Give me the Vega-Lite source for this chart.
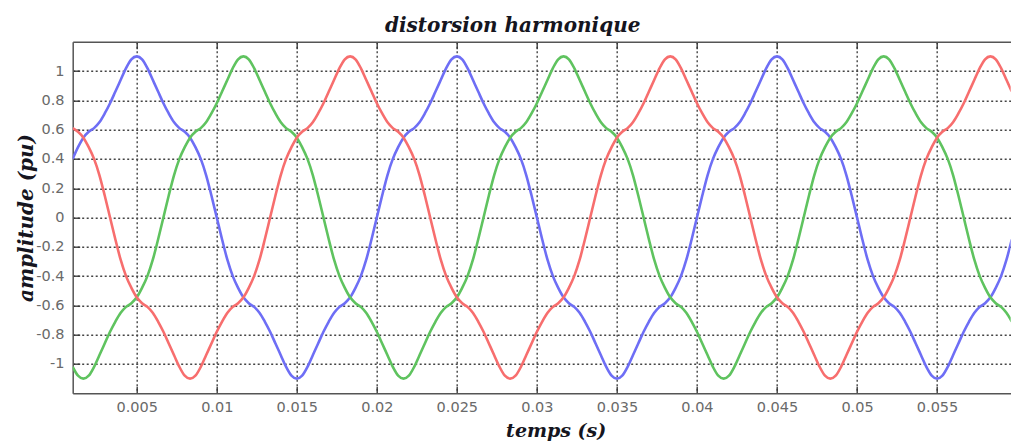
{
"$schema": "https://vega.github.io/schema/vega-lite/v6.json",
"width": 938, "height": 351.6,
"autosize": "none",
"padding": {"left": 72.7, "top": 41.7, "right": 0, "bottom": 52.7},
"background": "white",
"config": {"view": {"stroke": null}},
"title": {"text": "distorsion harmonique", "font": "DejaVu Serif", "fontSize": 20, "fontWeight": "bold", "fontStyle": "italic", "color": "#151520", "baseline": "alphabetic", "offset": 14, "dx": -29, "dy": 25},
"data": {"values": [
{"t":0.001,"s":"a","v":0.4},{"t":0.001,"s":"b","v":-1.02},{"t":0.001,"s":"c","v":0.61},
{"t":0.001333,"s":"a","v":0.48},{"t":0.001333,"s":"b","v":-1.08},{"t":0.001333,"s":"c","v":0.585},
{"t":0.001667,"s":"a","v":0.545},{"t":0.001667,"s":"b","v":-1.1},{"t":0.001667,"s":"c","v":0.545},
{"t":0.002,"s":"a","v":0.585},{"t":0.002,"s":"b","v":-1.08},{"t":0.002,"s":"c","v":0.48},
{"t":0.002333,"s":"a","v":0.61},{"t":0.002333,"s":"b","v":-1.02},{"t":0.002333,"s":"c","v":0.4},
{"t":0.002667,"s":"a","v":0.65},{"t":0.002667,"s":"b","v":-0.94},{"t":0.002667,"s":"c","v":0.29},
{"t":0.003,"s":"a","v":0.71},{"t":0.003,"s":"b","v":-0.86},{"t":0.003,"s":"c","v":0.15},
{"t":0.003333,"s":"a","v":0.78},{"t":0.003333,"s":"b","v":-0.78},{"t":0.003333,"s":"c","v":0},
{"t":0.003667,"s":"a","v":0.86},{"t":0.003667,"s":"b","v":-0.71},{"t":0.003667,"s":"c","v":-0.15},
{"t":0.004,"s":"a","v":0.94},{"t":0.004,"s":"b","v":-0.65},{"t":0.004,"s":"c","v":-0.29},
{"t":0.004333,"s":"a","v":1.02},{"t":0.004333,"s":"b","v":-0.61},{"t":0.004333,"s":"c","v":-0.4},
{"t":0.004667,"s":"a","v":1.08},{"t":0.004667,"s":"b","v":-0.585},{"t":0.004667,"s":"c","v":-0.48},
{"t":0.005,"s":"a","v":1.1},{"t":0.005,"s":"b","v":-0.545},{"t":0.005,"s":"c","v":-0.545},
{"t":0.005333,"s":"a","v":1.08},{"t":0.005333,"s":"b","v":-0.48},{"t":0.005333,"s":"c","v":-0.585},
{"t":0.005667,"s":"a","v":1.02},{"t":0.005667,"s":"b","v":-0.4},{"t":0.005667,"s":"c","v":-0.61},
{"t":0.006,"s":"a","v":0.94},{"t":0.006,"s":"b","v":-0.29},{"t":0.006,"s":"c","v":-0.65},
{"t":0.006333,"s":"a","v":0.86},{"t":0.006333,"s":"b","v":-0.15},{"t":0.006333,"s":"c","v":-0.71},
{"t":0.006667,"s":"a","v":0.78},{"t":0.006667,"s":"b","v":0},{"t":0.006667,"s":"c","v":-0.78},
{"t":0.007,"s":"a","v":0.71},{"t":0.007,"s":"b","v":0.15},{"t":0.007,"s":"c","v":-0.86},
{"t":0.007333,"s":"a","v":0.65},{"t":0.007333,"s":"b","v":0.29},{"t":0.007333,"s":"c","v":-0.94},
{"t":0.007667,"s":"a","v":0.61},{"t":0.007667,"s":"b","v":0.4},{"t":0.007667,"s":"c","v":-1.02},
{"t":0.008,"s":"a","v":0.585},{"t":0.008,"s":"b","v":0.48},{"t":0.008,"s":"c","v":-1.08},
{"t":0.008333,"s":"a","v":0.545},{"t":0.008333,"s":"b","v":0.545},{"t":0.008333,"s":"c","v":-1.1},
{"t":0.008667,"s":"a","v":0.48},{"t":0.008667,"s":"b","v":0.585},{"t":0.008667,"s":"c","v":-1.08},
{"t":0.009,"s":"a","v":0.4},{"t":0.009,"s":"b","v":0.61},{"t":0.009,"s":"c","v":-1.02},
{"t":0.009333,"s":"a","v":0.29},{"t":0.009333,"s":"b","v":0.65},{"t":0.009333,"s":"c","v":-0.94},
{"t":0.009667,"s":"a","v":0.15},{"t":0.009667,"s":"b","v":0.71},{"t":0.009667,"s":"c","v":-0.86},
{"t":0.01,"s":"a","v":0},{"t":0.01,"s":"b","v":0.78},{"t":0.01,"s":"c","v":-0.78},
{"t":0.010333,"s":"a","v":-0.15},{"t":0.010333,"s":"b","v":0.86},{"t":0.010333,"s":"c","v":-0.71},
{"t":0.010667,"s":"a","v":-0.29},{"t":0.010667,"s":"b","v":0.94},{"t":0.010667,"s":"c","v":-0.65},
{"t":0.011,"s":"a","v":-0.4},{"t":0.011,"s":"b","v":1.02},{"t":0.011,"s":"c","v":-0.61},
{"t":0.011333,"s":"a","v":-0.48},{"t":0.011333,"s":"b","v":1.08},{"t":0.011333,"s":"c","v":-0.585},
{"t":0.011667,"s":"a","v":-0.545},{"t":0.011667,"s":"b","v":1.1},{"t":0.011667,"s":"c","v":-0.545},
{"t":0.012,"s":"a","v":-0.585},{"t":0.012,"s":"b","v":1.08},{"t":0.012,"s":"c","v":-0.48},
{"t":0.012333,"s":"a","v":-0.61},{"t":0.012333,"s":"b","v":1.02},{"t":0.012333,"s":"c","v":-0.4},
{"t":0.012667,"s":"a","v":-0.65},{"t":0.012667,"s":"b","v":0.94},{"t":0.012667,"s":"c","v":-0.29},
{"t":0.013,"s":"a","v":-0.71},{"t":0.013,"s":"b","v":0.86},{"t":0.013,"s":"c","v":-0.15},
{"t":0.013333,"s":"a","v":-0.78},{"t":0.013333,"s":"b","v":0.78},{"t":0.013333,"s":"c","v":0},
{"t":0.013667,"s":"a","v":-0.86},{"t":0.013667,"s":"b","v":0.71},{"t":0.013667,"s":"c","v":0.15},
{"t":0.014,"s":"a","v":-0.94},{"t":0.014,"s":"b","v":0.65},{"t":0.014,"s":"c","v":0.29},
{"t":0.014333,"s":"a","v":-1.02},{"t":0.014333,"s":"b","v":0.61},{"t":0.014333,"s":"c","v":0.4},
{"t":0.014667,"s":"a","v":-1.08},{"t":0.014667,"s":"b","v":0.585},{"t":0.014667,"s":"c","v":0.48},
{"t":0.015,"s":"a","v":-1.1},{"t":0.015,"s":"b","v":0.545},{"t":0.015,"s":"c","v":0.545},
{"t":0.015333,"s":"a","v":-1.08},{"t":0.015333,"s":"b","v":0.48},{"t":0.015333,"s":"c","v":0.585},
{"t":0.015667,"s":"a","v":-1.02},{"t":0.015667,"s":"b","v":0.4},{"t":0.015667,"s":"c","v":0.61},
{"t":0.016,"s":"a","v":-0.94},{"t":0.016,"s":"b","v":0.29},{"t":0.016,"s":"c","v":0.65},
{"t":0.016333,"s":"a","v":-0.86},{"t":0.016333,"s":"b","v":0.15},{"t":0.016333,"s":"c","v":0.71},
{"t":0.016667,"s":"a","v":-0.78},{"t":0.016667,"s":"b","v":0},{"t":0.016667,"s":"c","v":0.78},
{"t":0.017,"s":"a","v":-0.71},{"t":0.017,"s":"b","v":-0.15},{"t":0.017,"s":"c","v":0.86},
{"t":0.017333,"s":"a","v":-0.65},{"t":0.017333,"s":"b","v":-0.29},{"t":0.017333,"s":"c","v":0.94},
{"t":0.017667,"s":"a","v":-0.61},{"t":0.017667,"s":"b","v":-0.4},{"t":0.017667,"s":"c","v":1.02},
{"t":0.018,"s":"a","v":-0.585},{"t":0.018,"s":"b","v":-0.48},{"t":0.018,"s":"c","v":1.08},
{"t":0.018333,"s":"a","v":-0.545},{"t":0.018333,"s":"b","v":-0.545},{"t":0.018333,"s":"c","v":1.1},
{"t":0.018667,"s":"a","v":-0.48},{"t":0.018667,"s":"b","v":-0.585},{"t":0.018667,"s":"c","v":1.08},
{"t":0.019,"s":"a","v":-0.4},{"t":0.019,"s":"b","v":-0.61},{"t":0.019,"s":"c","v":1.02},
{"t":0.019333,"s":"a","v":-0.29},{"t":0.019333,"s":"b","v":-0.65},{"t":0.019333,"s":"c","v":0.94},
{"t":0.019667,"s":"a","v":-0.15},{"t":0.019667,"s":"b","v":-0.71},{"t":0.019667,"s":"c","v":0.86},
{"t":0.02,"s":"a","v":0},{"t":0.02,"s":"b","v":-0.78},{"t":0.02,"s":"c","v":0.78},
{"t":0.020333,"s":"a","v":0.15},{"t":0.020333,"s":"b","v":-0.86},{"t":0.020333,"s":"c","v":0.71},
{"t":0.020667,"s":"a","v":0.29},{"t":0.020667,"s":"b","v":-0.94},{"t":0.020667,"s":"c","v":0.65},
{"t":0.021,"s":"a","v":0.4},{"t":0.021,"s":"b","v":-1.02},{"t":0.021,"s":"c","v":0.61},
{"t":0.021333,"s":"a","v":0.48},{"t":0.021333,"s":"b","v":-1.08},{"t":0.021333,"s":"c","v":0.585},
{"t":0.021667,"s":"a","v":0.545},{"t":0.021667,"s":"b","v":-1.1},{"t":0.021667,"s":"c","v":0.545},
{"t":0.022,"s":"a","v":0.585},{"t":0.022,"s":"b","v":-1.08},{"t":0.022,"s":"c","v":0.48},
{"t":0.022333,"s":"a","v":0.61},{"t":0.022333,"s":"b","v":-1.02},{"t":0.022333,"s":"c","v":0.4},
{"t":0.022667,"s":"a","v":0.65},{"t":0.022667,"s":"b","v":-0.94},{"t":0.022667,"s":"c","v":0.29},
{"t":0.023,"s":"a","v":0.71},{"t":0.023,"s":"b","v":-0.86},{"t":0.023,"s":"c","v":0.15},
{"t":0.023333,"s":"a","v":0.78},{"t":0.023333,"s":"b","v":-0.78},{"t":0.023333,"s":"c","v":0},
{"t":0.023667,"s":"a","v":0.86},{"t":0.023667,"s":"b","v":-0.71},{"t":0.023667,"s":"c","v":-0.15},
{"t":0.024,"s":"a","v":0.94},{"t":0.024,"s":"b","v":-0.65},{"t":0.024,"s":"c","v":-0.29},
{"t":0.024333,"s":"a","v":1.02},{"t":0.024333,"s":"b","v":-0.61},{"t":0.024333,"s":"c","v":-0.4},
{"t":0.024667,"s":"a","v":1.08},{"t":0.024667,"s":"b","v":-0.585},{"t":0.024667,"s":"c","v":-0.48},
{"t":0.025,"s":"a","v":1.1},{"t":0.025,"s":"b","v":-0.545},{"t":0.025,"s":"c","v":-0.545},
{"t":0.025333,"s":"a","v":1.08},{"t":0.025333,"s":"b","v":-0.48},{"t":0.025333,"s":"c","v":-0.585},
{"t":0.025667,"s":"a","v":1.02},{"t":0.025667,"s":"b","v":-0.4},{"t":0.025667,"s":"c","v":-0.61},
{"t":0.026,"s":"a","v":0.94},{"t":0.026,"s":"b","v":-0.29},{"t":0.026,"s":"c","v":-0.65},
{"t":0.026333,"s":"a","v":0.86},{"t":0.026333,"s":"b","v":-0.15},{"t":0.026333,"s":"c","v":-0.71},
{"t":0.026667,"s":"a","v":0.78},{"t":0.026667,"s":"b","v":0},{"t":0.026667,"s":"c","v":-0.78},
{"t":0.027,"s":"a","v":0.71},{"t":0.027,"s":"b","v":0.15},{"t":0.027,"s":"c","v":-0.86},
{"t":0.027333,"s":"a","v":0.65},{"t":0.027333,"s":"b","v":0.29},{"t":0.027333,"s":"c","v":-0.94},
{"t":0.027667,"s":"a","v":0.61},{"t":0.027667,"s":"b","v":0.4},{"t":0.027667,"s":"c","v":-1.02},
{"t":0.028,"s":"a","v":0.585},{"t":0.028,"s":"b","v":0.48},{"t":0.028,"s":"c","v":-1.08},
{"t":0.028333,"s":"a","v":0.545},{"t":0.028333,"s":"b","v":0.545},{"t":0.028333,"s":"c","v":-1.1},
{"t":0.028667,"s":"a","v":0.48},{"t":0.028667,"s":"b","v":0.585},{"t":0.028667,"s":"c","v":-1.08},
{"t":0.029,"s":"a","v":0.4},{"t":0.029,"s":"b","v":0.61},{"t":0.029,"s":"c","v":-1.02},
{"t":0.029333,"s":"a","v":0.29},{"t":0.029333,"s":"b","v":0.65},{"t":0.029333,"s":"c","v":-0.94},
{"t":0.029667,"s":"a","v":0.15},{"t":0.029667,"s":"b","v":0.71},{"t":0.029667,"s":"c","v":-0.86},
{"t":0.03,"s":"a","v":0},{"t":0.03,"s":"b","v":0.78},{"t":0.03,"s":"c","v":-0.78},
{"t":0.030333,"s":"a","v":-0.15},{"t":0.030333,"s":"b","v":0.86},{"t":0.030333,"s":"c","v":-0.71},
{"t":0.030667,"s":"a","v":-0.29},{"t":0.030667,"s":"b","v":0.94},{"t":0.030667,"s":"c","v":-0.65},
{"t":0.031,"s":"a","v":-0.4},{"t":0.031,"s":"b","v":1.02},{"t":0.031,"s":"c","v":-0.61},
{"t":0.031333,"s":"a","v":-0.48},{"t":0.031333,"s":"b","v":1.08},{"t":0.031333,"s":"c","v":-0.585},
{"t":0.031667,"s":"a","v":-0.545},{"t":0.031667,"s":"b","v":1.1},{"t":0.031667,"s":"c","v":-0.545},
{"t":0.032,"s":"a","v":-0.585},{"t":0.032,"s":"b","v":1.08},{"t":0.032,"s":"c","v":-0.48},
{"t":0.032333,"s":"a","v":-0.61},{"t":0.032333,"s":"b","v":1.02},{"t":0.032333,"s":"c","v":-0.4},
{"t":0.032667,"s":"a","v":-0.65},{"t":0.032667,"s":"b","v":0.94},{"t":0.032667,"s":"c","v":-0.29},
{"t":0.033,"s":"a","v":-0.71},{"t":0.033,"s":"b","v":0.86},{"t":0.033,"s":"c","v":-0.15},
{"t":0.033333,"s":"a","v":-0.78},{"t":0.033333,"s":"b","v":0.78},{"t":0.033333,"s":"c","v":0},
{"t":0.033667,"s":"a","v":-0.86},{"t":0.033667,"s":"b","v":0.71},{"t":0.033667,"s":"c","v":0.15},
{"t":0.034,"s":"a","v":-0.94},{"t":0.034,"s":"b","v":0.65},{"t":0.034,"s":"c","v":0.29},
{"t":0.034333,"s":"a","v":-1.02},{"t":0.034333,"s":"b","v":0.61},{"t":0.034333,"s":"c","v":0.4},
{"t":0.034667,"s":"a","v":-1.08},{"t":0.034667,"s":"b","v":0.585},{"t":0.034667,"s":"c","v":0.48},
{"t":0.035,"s":"a","v":-1.1},{"t":0.035,"s":"b","v":0.545},{"t":0.035,"s":"c","v":0.545},
{"t":0.035333,"s":"a","v":-1.08},{"t":0.035333,"s":"b","v":0.48},{"t":0.035333,"s":"c","v":0.585},
{"t":0.035667,"s":"a","v":-1.02},{"t":0.035667,"s":"b","v":0.4},{"t":0.035667,"s":"c","v":0.61},
{"t":0.036,"s":"a","v":-0.94},{"t":0.036,"s":"b","v":0.29},{"t":0.036,"s":"c","v":0.65},
{"t":0.036333,"s":"a","v":-0.86},{"t":0.036333,"s":"b","v":0.15},{"t":0.036333,"s":"c","v":0.71},
{"t":0.036667,"s":"a","v":-0.78},{"t":0.036667,"s":"b","v":0},{"t":0.036667,"s":"c","v":0.78},
{"t":0.037,"s":"a","v":-0.71},{"t":0.037,"s":"b","v":-0.15},{"t":0.037,"s":"c","v":0.86},
{"t":0.037333,"s":"a","v":-0.65},{"t":0.037333,"s":"b","v":-0.29},{"t":0.037333,"s":"c","v":0.94},
{"t":0.037667,"s":"a","v":-0.61},{"t":0.037667,"s":"b","v":-0.4},{"t":0.037667,"s":"c","v":1.02},
{"t":0.038,"s":"a","v":-0.585},{"t":0.038,"s":"b","v":-0.48},{"t":0.038,"s":"c","v":1.08},
{"t":0.038333,"s":"a","v":-0.545},{"t":0.038333,"s":"b","v":-0.545},{"t":0.038333,"s":"c","v":1.1},
{"t":0.038667,"s":"a","v":-0.48},{"t":0.038667,"s":"b","v":-0.585},{"t":0.038667,"s":"c","v":1.08},
{"t":0.039,"s":"a","v":-0.4},{"t":0.039,"s":"b","v":-0.61},{"t":0.039,"s":"c","v":1.02},
{"t":0.039333,"s":"a","v":-0.29},{"t":0.039333,"s":"b","v":-0.65},{"t":0.039333,"s":"c","v":0.94},
{"t":0.039667,"s":"a","v":-0.15},{"t":0.039667,"s":"b","v":-0.71},{"t":0.039667,"s":"c","v":0.86},
{"t":0.04,"s":"a","v":0},{"t":0.04,"s":"b","v":-0.78},{"t":0.04,"s":"c","v":0.78},
{"t":0.040333,"s":"a","v":0.15},{"t":0.040333,"s":"b","v":-0.86},{"t":0.040333,"s":"c","v":0.71},
{"t":0.040667,"s":"a","v":0.29},{"t":0.040667,"s":"b","v":-0.94},{"t":0.040667,"s":"c","v":0.65},
{"t":0.041,"s":"a","v":0.4},{"t":0.041,"s":"b","v":-1.02},{"t":0.041,"s":"c","v":0.61},
{"t":0.041333,"s":"a","v":0.48},{"t":0.041333,"s":"b","v":-1.08},{"t":0.041333,"s":"c","v":0.585},
{"t":0.041667,"s":"a","v":0.545},{"t":0.041667,"s":"b","v":-1.1},{"t":0.041667,"s":"c","v":0.545},
{"t":0.042,"s":"a","v":0.585},{"t":0.042,"s":"b","v":-1.08},{"t":0.042,"s":"c","v":0.48},
{"t":0.042333,"s":"a","v":0.61},{"t":0.042333,"s":"b","v":-1.02},{"t":0.042333,"s":"c","v":0.4},
{"t":0.042667,"s":"a","v":0.65},{"t":0.042667,"s":"b","v":-0.94},{"t":0.042667,"s":"c","v":0.29},
{"t":0.043,"s":"a","v":0.71},{"t":0.043,"s":"b","v":-0.86},{"t":0.043,"s":"c","v":0.15},
{"t":0.043333,"s":"a","v":0.78},{"t":0.043333,"s":"b","v":-0.78},{"t":0.043333,"s":"c","v":0},
{"t":0.043667,"s":"a","v":0.86},{"t":0.043667,"s":"b","v":-0.71},{"t":0.043667,"s":"c","v":-0.15},
{"t":0.044,"s":"a","v":0.94},{"t":0.044,"s":"b","v":-0.65},{"t":0.044,"s":"c","v":-0.29},
{"t":0.044333,"s":"a","v":1.02},{"t":0.044333,"s":"b","v":-0.61},{"t":0.044333,"s":"c","v":-0.4},
{"t":0.044667,"s":"a","v":1.08},{"t":0.044667,"s":"b","v":-0.585},{"t":0.044667,"s":"c","v":-0.48},
{"t":0.045,"s":"a","v":1.1},{"t":0.045,"s":"b","v":-0.545},{"t":0.045,"s":"c","v":-0.545},
{"t":0.045333,"s":"a","v":1.08},{"t":0.045333,"s":"b","v":-0.48},{"t":0.045333,"s":"c","v":-0.585},
{"t":0.045667,"s":"a","v":1.02},{"t":0.045667,"s":"b","v":-0.4},{"t":0.045667,"s":"c","v":-0.61},
{"t":0.046,"s":"a","v":0.94},{"t":0.046,"s":"b","v":-0.29},{"t":0.046,"s":"c","v":-0.65},
{"t":0.046333,"s":"a","v":0.86},{"t":0.046333,"s":"b","v":-0.15},{"t":0.046333,"s":"c","v":-0.71},
{"t":0.046667,"s":"a","v":0.78},{"t":0.046667,"s":"b","v":0},{"t":0.046667,"s":"c","v":-0.78},
{"t":0.047,"s":"a","v":0.71},{"t":0.047,"s":"b","v":0.15},{"t":0.047,"s":"c","v":-0.86},
{"t":0.047333,"s":"a","v":0.65},{"t":0.047333,"s":"b","v":0.29},{"t":0.047333,"s":"c","v":-0.94},
{"t":0.047667,"s":"a","v":0.61},{"t":0.047667,"s":"b","v":0.4},{"t":0.047667,"s":"c","v":-1.02},
{"t":0.048,"s":"a","v":0.585},{"t":0.048,"s":"b","v":0.48},{"t":0.048,"s":"c","v":-1.08},
{"t":0.048333,"s":"a","v":0.545},{"t":0.048333,"s":"b","v":0.545},{"t":0.048333,"s":"c","v":-1.1},
{"t":0.048667,"s":"a","v":0.48},{"t":0.048667,"s":"b","v":0.585},{"t":0.048667,"s":"c","v":-1.08},
{"t":0.049,"s":"a","v":0.4},{"t":0.049,"s":"b","v":0.61},{"t":0.049,"s":"c","v":-1.02},
{"t":0.049333,"s":"a","v":0.29},{"t":0.049333,"s":"b","v":0.65},{"t":0.049333,"s":"c","v":-0.94},
{"t":0.049667,"s":"a","v":0.15},{"t":0.049667,"s":"b","v":0.71},{"t":0.049667,"s":"c","v":-0.86},
{"t":0.05,"s":"a","v":0},{"t":0.05,"s":"b","v":0.78},{"t":0.05,"s":"c","v":-0.78},
{"t":0.050333,"s":"a","v":-0.15},{"t":0.050333,"s":"b","v":0.86},{"t":0.050333,"s":"c","v":-0.71},
{"t":0.050667,"s":"a","v":-0.29},{"t":0.050667,"s":"b","v":0.94},{"t":0.050667,"s":"c","v":-0.65},
{"t":0.051,"s":"a","v":-0.4},{"t":0.051,"s":"b","v":1.02},{"t":0.051,"s":"c","v":-0.61},
{"t":0.051333,"s":"a","v":-0.48},{"t":0.051333,"s":"b","v":1.08},{"t":0.051333,"s":"c","v":-0.585},
{"t":0.051667,"s":"a","v":-0.545},{"t":0.051667,"s":"b","v":1.1},{"t":0.051667,"s":"c","v":-0.545},
{"t":0.052,"s":"a","v":-0.585},{"t":0.052,"s":"b","v":1.08},{"t":0.052,"s":"c","v":-0.48},
{"t":0.052333,"s":"a","v":-0.61},{"t":0.052333,"s":"b","v":1.02},{"t":0.052333,"s":"c","v":-0.4},
{"t":0.052667,"s":"a","v":-0.65},{"t":0.052667,"s":"b","v":0.94},{"t":0.052667,"s":"c","v":-0.29},
{"t":0.053,"s":"a","v":-0.71},{"t":0.053,"s":"b","v":0.86},{"t":0.053,"s":"c","v":-0.15},
{"t":0.053333,"s":"a","v":-0.78},{"t":0.053333,"s":"b","v":0.78},{"t":0.053333,"s":"c","v":0},
{"t":0.053667,"s":"a","v":-0.86},{"t":0.053667,"s":"b","v":0.71},{"t":0.053667,"s":"c","v":0.15},
{"t":0.054,"s":"a","v":-0.94},{"t":0.054,"s":"b","v":0.65},{"t":0.054,"s":"c","v":0.29},
{"t":0.054333,"s":"a","v":-1.02},{"t":0.054333,"s":"b","v":0.61},{"t":0.054333,"s":"c","v":0.4},
{"t":0.054667,"s":"a","v":-1.08},{"t":0.054667,"s":"b","v":0.585},{"t":0.054667,"s":"c","v":0.48},
{"t":0.055,"s":"a","v":-1.1},{"t":0.055,"s":"b","v":0.545},{"t":0.055,"s":"c","v":0.545},
{"t":0.055333,"s":"a","v":-1.08},{"t":0.055333,"s":"b","v":0.48},{"t":0.055333,"s":"c","v":0.585},
{"t":0.055667,"s":"a","v":-1.02},{"t":0.055667,"s":"b","v":0.4},{"t":0.055667,"s":"c","v":0.61},
{"t":0.056,"s":"a","v":-0.94},{"t":0.056,"s":"b","v":0.29},{"t":0.056,"s":"c","v":0.65},
{"t":0.056333,"s":"a","v":-0.86},{"t":0.056333,"s":"b","v":0.15},{"t":0.056333,"s":"c","v":0.71},
{"t":0.056667,"s":"a","v":-0.78},{"t":0.056667,"s":"b","v":0},{"t":0.056667,"s":"c","v":0.78},
{"t":0.057,"s":"a","v":-0.71},{"t":0.057,"s":"b","v":-0.15},{"t":0.057,"s":"c","v":0.86},
{"t":0.057333,"s":"a","v":-0.65},{"t":0.057333,"s":"b","v":-0.29},{"t":0.057333,"s":"c","v":0.94},
{"t":0.057667,"s":"a","v":-0.61},{"t":0.057667,"s":"b","v":-0.4},{"t":0.057667,"s":"c","v":1.02},
{"t":0.058,"s":"a","v":-0.585},{"t":0.058,"s":"b","v":-0.48},{"t":0.058,"s":"c","v":1.08},
{"t":0.058333,"s":"a","v":-0.545},{"t":0.058333,"s":"b","v":-0.545},{"t":0.058333,"s":"c","v":1.1},
{"t":0.058667,"s":"a","v":-0.48},{"t":0.058667,"s":"b","v":-0.585},{"t":0.058667,"s":"c","v":1.08},
{"t":0.059,"s":"a","v":-0.4},{"t":0.059,"s":"b","v":-0.61},{"t":0.059,"s":"c","v":1.02},
{"t":0.059333,"s":"a","v":-0.29},{"t":0.059333,"s":"b","v":-0.65},{"t":0.059333,"s":"c","v":0.94},
{"t":0.059667,"s":"a","v":-0.15},{"t":0.059667,"s":"b","v":-0.71},{"t":0.059667,"s":"c","v":0.86}
]},
"layer": [
{"mark": {"type": "line", "interpolate": "monotone", "strokeWidth": 2.6, "clip": true},
 "encoding": {
  "x": {"field": "t", "type": "quantitative",
        "scale": {"domain": [0.001, 0.0596], "nice": false, "zero": false},
        "axis": {"orient": "bottom", "values": [0.005,0.01,0.015,0.02,0.025,0.03,0.035,0.04,0.045,0.05,0.055],
                 "tickCount": 30,
                 "format": ".3~f", "labelFont": "DejaVu Sans", "labelFontSize": 14.5, "labelColor": "#6a6a6a",
                 "labelOverlap": false,
                 "tickSize": -7, "tickColor": "#333333", "tickWidth": 1.3, "labelPadding": 14,
                 "domainColor": "#555555", "domainWidth": 1.5,
                 "grid": true, "gridColor": "#444444", "gridDash": [2, 2.5], "gridWidth": 1.4,
                 "title": "temps (s)", "titleFont": "DejaVu Serif", "titleFontSize": 19, "titleFontWeight": "bold",
                 "titleFontStyle": "italic", "titleColor": "#151520", "titleX": 483, "titleY": 43,
                 "titleBaseline": "alphabetic", "titleAlign": "center"}},
  "y": {"field": "v", "type": "quantitative",
        "scale": {"domain": [-1.2, 1.2], "nice": false, "zero": false},
        "axis": {"values": [-1,-0.8,-0.6,-0.4,-0.2,0,0.2,0.4,0.6,0.8,1],
                 "tickCount": 30,
                 "labelExpr": "datum.value < 0 ? '-' + format(-datum.value, '.1~f') : format(datum.value, '.1~f')",
                 "labelFont": "DejaVu Sans", "labelFontSize": 14.5, "labelColor": "#6a6a6a",
                 "labelOverlap": false,
                 "tickSize": -7, "tickColor": "#333333", "tickWidth": 1.3, "labelPadding": 15.7,
                 "domainColor": "#555555", "domainWidth": 1.5,
                 "grid": true, "gridColor": "#444444", "gridDash": [2, 2.5], "gridWidth": 1.4,
                 "title": "amplitude (pu)", "titleFont": "DejaVu Serif", "titleFontSize": 20, "titleFontWeight": "bold",
                 "titleFontStyle": "italic", "titleColor": "#151520", "titleX": -46, "titleY": 175.8,
                 "titleAngle": -90, "titleBaseline": "middle", "titleAlign": "center"}},
  "color": {"field": "s", "type": "nominal",
            "scale": {"domain": ["a","b","c"], "range": ["#6e6ef5","#5fc35f","#f76e6e"]}, "legend": null}
 }},
{"mark": {"type": "line", "opacity": 0},
 "encoding": {
  "x": {"field": "t", "type": "quantitative",
        "axis": {"orient": "top", "values": [0.005,0.01,0.015,0.02,0.025,0.03,0.035,0.04,0.045,0.05,0.055],
                 "tickCount": 30,
                 "labels": false, "grid": false, "title": null,
                 "tickSize": -7, "tickColor": "#333333", "tickWidth": 1.3,
                 "domainColor": "#555555", "domainWidth": 1.5}},
  "y": {"field": "v", "type": "quantitative"}
 }}
],
"resolve": {"axis": {"x": "independent"}}
}
